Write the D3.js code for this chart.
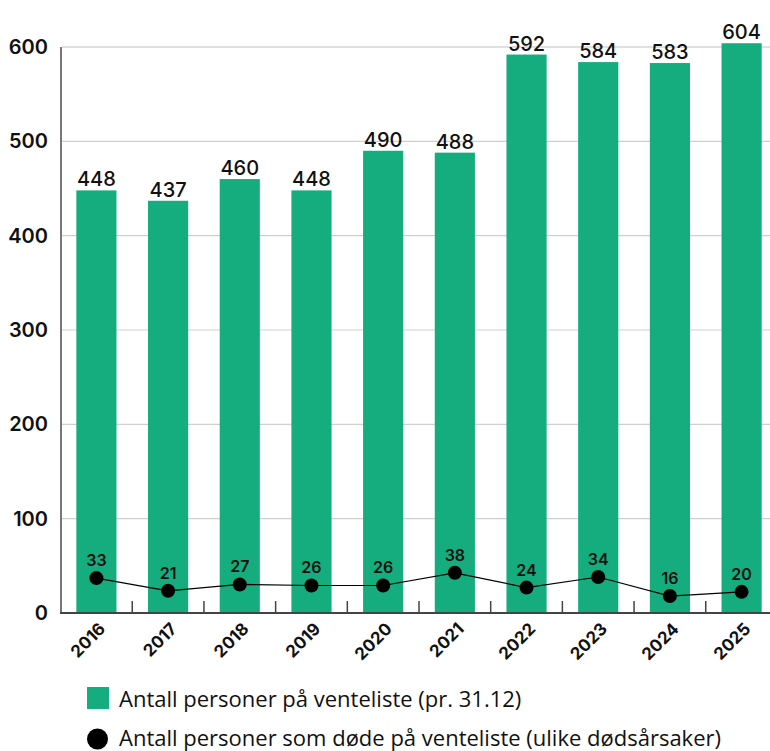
<!DOCTYPE html>
<html>
<head>
<meta charset="utf-8">
<script src="https://cdn.jsdelivr.net/npm/d3@7"></script>
<style>
  body { margin: 0; background: #fff; }
  text { font-family: Inter, "Noto Sans", sans-serif; fill: #111; }
</style>
</head>
<body>
<div id="chart"></div>
<script>
// data
const years = ["2016", "2017", "2018", "2019", "2020", "2021", "2022", "2023", "2024", "2025"];
const waiting = [448, 437, 460, 448, 490, 488, 592, 584, 583, 604];
const died = [33, 21, 27, 26, 26, 38, 24, 34, 16, 20];
const yTicks = [0, 100, 200, 300, 400, 500, 600];
const legendLabels = [
  "Antall personer på venteliste (pr. 31.12)",
  "Antall personer som døde på venteliste (ulike dødsårsaker)"
];

const w = 770, h = 751;
const green = "#15ad7e";
const plotLeft = 62, plotRight = 776, plotTop = 47, plotBottom = 613;

const svg = d3.select("#chart").append("svg")
  .attr("width", w)
  .attr("height", h);

const x = d3.scaleBand()
  .domain(years)
  .range([plotLeft, plotRight])
  .paddingInner(0.44)
  .paddingOuter(0.2);

const y = d3.scaleLinear().domain([0, 600]).range([plotBottom, plotTop]);
// the line series sits on its own (hidden) scale in the original
const yLine = d3.scaleLinear().domain([0, 535]).range([plotBottom, plotTop]);

// grid lines
svg.append("g")
  .selectAll("line")
  .data(yTicks.filter((d) => d > 0))
  .enter()
  .append("line")
  .attr("x1", plotLeft)
  .attr("x2", w)
  .attr("y1", (d) => y(d))
  .attr("y2", (d) => y(d))
  .attr("stroke", (d) => d === 600 ? "#e0e0e0" : "#cfcfcf")
  .attr("stroke-width", (d) => d === 600 ? 2 : 1.2);

// y labels
svg.append("g")
  .selectAll("text")
  .data(yTicks)
  .enter()
  .append("text")
  .attr("x", 48)
  .attr("y", (d) => y(d) + 7)
  .attr("text-anchor", "end")
  .attr("font-size", 20)
  .attr("font-weight", 600)
  .text((d) => d);

// bars
svg.append("g")
  .selectAll("rect")
  .data(years)
  .enter()
  .append("rect")
  .attr("x", (d) => x(d))
  .attr("width", x.bandwidth())
  .attr("y", (d, i) => y(waiting[i]))
  .attr("height", (d, i) => y(0) - y(waiting[i]))
  .attr("fill", green);

svg.append("g")
  .selectAll("text")
  .data(years)
  .enter()
  .append("text")
  .attr("x", (d) => x(d) + x.bandwidth() / 2)
  .attr("y", (d, i) => y(waiting[i]) - 4)
  .attr("text-anchor", "middle")
  .attr("font-size", 20)
  .attr("font-weight", 500)
  .text((d, i) => waiting[i]);

// axes
svg.append("line")
  .attr("x1", plotLeft - 1).attr("x2", plotLeft - 1)
  .attr("y1", plotTop).attr("y2", plotBottom)
  .attr("stroke", "#777").attr("stroke-width", 2);

svg.append("line")
  .attr("x1", plotLeft - 2).attr("x2", w)
  .attr("y1", plotBottom).attr("y2", plotBottom)
  .attr("stroke", "#444").attr("stroke-width", 2);

// small ticks between bars
svg.append("g")
  .selectAll("line")
  .data(years.slice(1))
  .enter()
  .append("line")
  .attr("x1", (d) => x(d) - x.step() * x.paddingInner() / 2)
  .attr("x2", (d) => x(d) - x.step() * x.paddingInner() / 2)
  .attr("y1", plotBottom - 12)
  .attr("y2", plotBottom)
  .attr("stroke", "#444")
  .attr("stroke-width", 1.5);

// year labels
svg.append("g")
  .selectAll("text")
  .data(years)
  .enter()
  .append("text")
  .attr("transform", (d) => `translate(${x(d) + x.bandwidth() / 2 + 10},${plotBottom + 17}) rotate(-45)`)
  .attr("text-anchor", "end")
  .attr("font-size", 17)
  .attr("font-weight", 700)
  .text((d) => d);

// line series
const line = d3.line()
  .x((d, i) => x(years[i]) + x.bandwidth() / 2)
  .y((d) => yLine(d));

svg.append("path")
  .datum(died)
  .attr("d", line)
  .attr("fill", "none")
  .attr("stroke", "#000")
  .attr("stroke-width", 1.2);

svg.append("g")
  .selectAll("circle")
  .data(died)
  .enter()
  .append("circle")
  .attr("cx", (d, i) => x(years[i]) + x.bandwidth() / 2)
  .attr("cy", (d) => yLine(d))
  .attr("r", 7)
  .attr("fill", "#000");

svg.append("g")
  .selectAll("text")
  .data(died)
  .enter()
  .append("text")
  .attr("x", (d, i) => x(years[i]) + x.bandwidth() / 2)
  .attr("y", (d) => yLine(d) - 12)
  .attr("text-anchor", "middle")
  .attr("font-size", 16)
  .attr("font-weight", 600)
  .text((d) => d);

// legend
const legend = svg.append("g");
legend.append("rect")
  .attr("x", 87).attr("y", 687)
  .attr("width", 22).attr("height", 22)
  .attr("fill", green);
legend.append("circle")
  .attr("cx", 97.5).attr("cy", 739)
  .attr("r", 10.5)
  .attr("fill", "#000");
legend.selectAll("text")
  .data(legendLabels)
  .enter()
  .append("text")
  .attr("x", 119)
  .attr("y", (d, i) => 707 + i * 39)
  .attr("font-size", 22)
  .attr("font-weight", 500)
  .style("font-family", "'Open Sans', sans-serif")
  .text((d) => d);
</script>
</body>
</html>
